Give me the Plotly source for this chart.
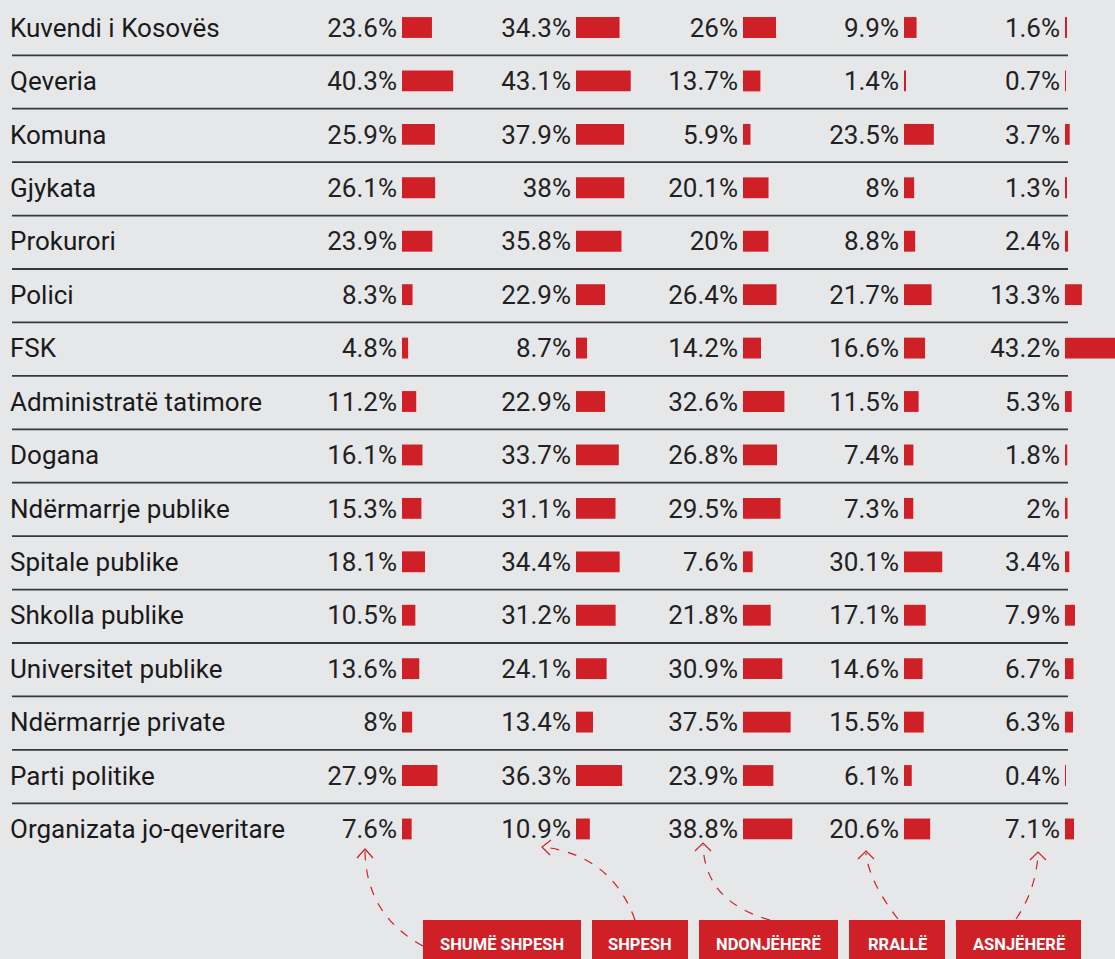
import plotly.graph_objects as go

# Institutions (rows)
institutions = ["Kuvendi i Kosovës", "Qeveria", "Komuna", "Gjykata", "Prokurori", "Polici", "FSK",
                "Administratë tatimore", "Dogana", "Ndërmarrje publike", "Spitale publike",
                "Shkolla publike", "Universitet publike", "Ndërmarrje private", "Parti politike",
                "Organizata jo-qeveritare"]

# Answer categories (columns)
categories = ["SHUMË SHPESH", "SHPESH", "NDONJËHERË", "RRALLË", "ASNJËHERË"]

shume_shpesh = [23.6, 40.3, 25.9, 26.1, 23.9, 8.3, 4.8, 11.2, 16.1, 15.3, 18.1, 10.5, 13.6, 8, 27.9, 7.6]
shpesh = [34.3, 43.1, 37.9, 38, 35.8, 22.9, 8.7, 22.9, 33.7, 31.1, 34.4, 31.2, 24.1, 13.4, 36.3, 10.9]
ndonjehere = [26, 13.7, 5.9, 20.1, 20, 26.4, 14.2, 32.6, 26.8, 29.5, 7.6, 21.8, 30.9, 37.5, 23.9, 38.8]
ralle = [9.9, 1.4, 23.5, 8, 8.8, 21.7, 16.6, 11.5, 7.4, 7.3, 30.1, 17.1, 14.6, 15.5, 6.1, 20.6]
asnjehere = [1.6, 0.7, 3.7, 1.3, 2.4, 13.3, 43.2, 5.3, 1.8, 2, 3.4, 7.9, 6.7, 6.3, 0.4, 7.1]

series = [shume_shpesh, shpesh, ndonjehere, ralle, asnjehere]

# layout constants (pixels on the x axis)
W, H = 1115, 959
col_start = [402, 576, 743, 904, 1065]
px_per_pct = 1.27
row_px = 53.43
first_row_px = 27.5
text_shift = 0.05  # nudge text down a few px so it sits centred on the bars
red = '#cf2027'
bg = '#e6e7e9'
font_family = 'Roboto'

rows = list(range(len(institutions)))
text_rows = [r + text_shift for r in rows]

fig = go.Figure()

for k, vals in enumerate(series):
    fig.add_trace(go.Bar(
        orientation='h',
        y=rows,
        x=[v * px_per_pct for v in vals],
        base=col_start[k],
        width=0.39,
        marker=dict(color=red, line=dict(width=0)),
        hoverinfo='skip',
        showlegend=False,
    ))
    fig.add_trace(go.Scatter(
        x=[col_start[k] - 5] * len(vals),
        y=text_rows,
        mode='text',
        text=[f'{v:g}%' for v in vals],
        textposition='middle left',
        textfont=dict(family=font_family, size=26, color='#222222'),
        hoverinfo='skip',
        showlegend=False,
    ))

# row labels
fig.add_trace(go.Scatter(
    x=[10] * len(institutions),
    y=text_rows,
    mode='text',
    text=institutions,
    textposition='middle right',
    textfont=dict(family=font_family, size=26, color='#1a1a1a'),
    hoverinfo='skip',
    showlegend=False,
))

# dummy trace for the pixel overlay axis
fig.add_trace(go.Scatter(x=[None], y=[None], yaxis='y2', showlegend=False, hoverinfo='skip'))

# separators
for i in rows[:-1]:
    fig.add_shape(type='line', xref='x', yref='y', x0=12, x1=1068, y0=i + 0.52, y1=i + 0.52,
                  line=dict(color='#38383a', width=1.8))

# legend boxes + dashed arrows (pixel coordinates on overlay axis)
boxes = [(423, 581), (592, 688), (699, 838), (849, 945), (956, 1081)]
arrows = [
    ("M 423 946 Q 366 915 365 851", "M 357 858 L 365 849 L 373 858"),
    ("M 635 920 Q 612 856 544 847", "M 551 840 L 542 847 L 550 855"),
    ("M 770 920 Q 705 902 703 845", "M 695 851 L 703 843 L 711 851"),
    ("M 898 919 Q 869 882 866 853", "M 858 859 L 866 851 L 874 859"),
    ("M 1016 919 Q 1036 890 1038 854", "M 1030 860 L 1038 852 L 1046 860"),
]
for (x0, x1), cat, (curve, head) in zip(boxes, categories, arrows):
    fig.add_shape(type='rect', xref='x', yref='y2', x0=x0, x1=x1, y0=920, y1=965,
                  fillcolor=red, line=dict(width=0), layer='above')
    fig.add_annotation(xref='x', yref='y2', x=(x0 + x1) / 2, y=944, text=f'<b>{cat}</b>',
                       showarrow=False, font=dict(family=font_family, size=16.5, color='white'))
    fig.add_shape(type='path', xref='x', yref='y2', path=curve,
                  line=dict(color=red, width=1.2, dash='dash'))
    fig.add_shape(type='path', xref='x', yref='y2', path=head,
                  line=dict(color=red, width=1.2))

fig.update_layout(
    width=W, height=H,
    margin=dict(l=0, r=0, t=0, b=0),
    paper_bgcolor=bg,
    plot_bgcolor=bg,
    showlegend=False,
    barmode='overlay',
    xaxis=dict(range=[0, W], visible=False, fixedrange=True),
    yaxis=dict(range=[(H - first_row_px) / row_px, -first_row_px / row_px], visible=False, fixedrange=True),
    yaxis2=dict(range=[H, 0], overlaying='y', visible=False, fixedrange=True),
    font=dict(family=font_family),
)

fig.write_html("out.html", config={'displayModeBar': False},
               post_script="document.body.style.margin='0';document.body.style.background='%s';" % bg)
